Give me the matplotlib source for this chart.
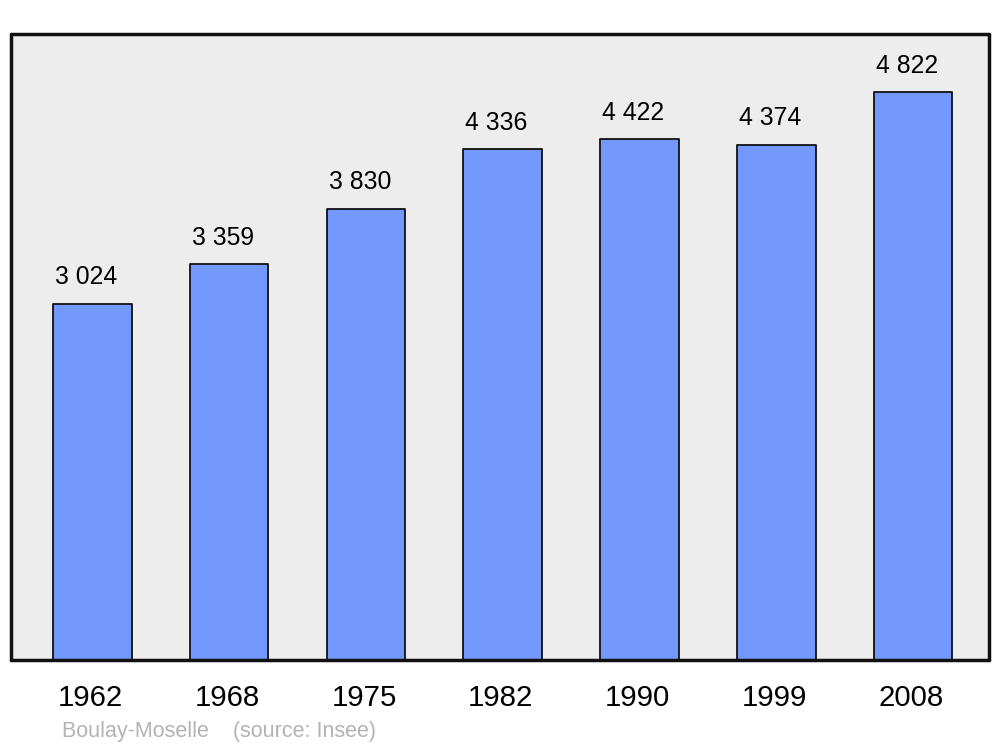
import matplotlib
matplotlib.use("Agg")
import matplotlib.pyplot as plt
import matplotlib.transforms as mtransforms

years = ["1962", "1968", "1975", "1982", "1990", "1999", "2008"]
population = [3024, 3359, 3830, 4336, 4422, 4374, 4822]
value_labels = ["3 024", "3 359", "3 830", "4 336", "4 422", "4 374", "4 822"]
footer = "Boulay-Moselle    (source: Insee)"

plt.rcParams['font.family'] = ['Liberation Sans', 'DejaVu Sans']

fig = plt.figure(figsize=(10, 7.47), dpi=100)
ax = fig.add_axes([0.011, 87/747, 0.978, 626/747])
ax.set_facecolor("#ededed")

x = list(range(len(years)))
ax.bar(x, population, width=0.575, color="#7399ff", edgecolor="#111111",
       linewidth=1.3, joinstyle="round", zorder=2)

for xi, v, lab in zip(x, population, value_labels):
    ax.annotate(lab, (xi - 0.045, v), xytext=(0, 14), textcoords="offset points",
                ha="center", va="baseline", fontsize=17.8, color="black")

ax.set_xlim(-0.595, 6.555)
ax.set_ylim(0, 5314)
ax.set_yticks([])
ax.set_xticks(x)
ax.set_xticklabels(years, fontsize=21.2)
ax.tick_params(axis="x", length=0, pad=17.5)
shift = mtransforms.ScaledTranslation(-2/100, 0, fig.dpi_scale_trans)
for lbl in ax.get_xticklabels():
    lbl.set_transform(lbl.get_transform() + shift)
for s in ax.spines.values():
    s.set_linewidth(2.5)
    s.set_color("#111111")
    s.set_capstyle("round")
    s.set_joinstyle("round")

fig.text(0.062, 1 - 731/747, footer, fontsize=15.5, color="#b3b3b3",
         ha="left", va="center")

fig.savefig("out.png", dpi=100, facecolor="white")
